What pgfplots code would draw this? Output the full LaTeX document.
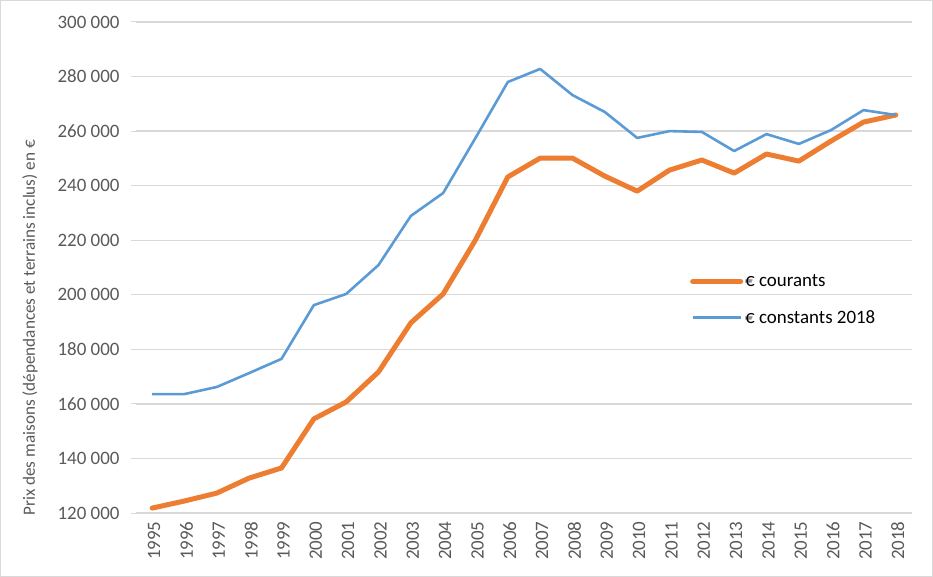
\documentclass[border=0pt]{standalone}
\usepackage{fontspec}
\setmainfont{Carlito}
\usepackage{pgfplots}
\pgfplotsset{compat=1.18}

\definecolor{courant}{HTML}{ED7D31}
\definecolor{constant}{HTML}{5B9BD5}
\definecolor{gridgray}{HTML}{D9D9D9}
\definecolor{txt}{HTML}{595959}

\begin{document}
\begin{tikzpicture}
\begin{axis}[
    scale only axis,
    width=776bp, height=491bp,
    xmin=1994.5, xmax=2018.5,
    ymin=120000, ymax=300000,
    xtick={1995,...,2018},
    xticklabels={1995,1996,1997,1998,1999,2000,2001,2002,2003,2004,2005,2006,
        2007,2008,2009,2010,2011,2012,2013,2014,2015,2016,2017,2018},
    ytick={120000,140000,...,300000},
    yticklabels={120 000,140 000,160 000,180 000,200 000,220 000,240 000,
        260 000,280 000,300 000},
    scaled ticks=false,
    font=\fontsize{19}{22}\selectfont,
    yticklabel style={text=txt, xshift=-8bp},
    xticklabel style={rotate=90, anchor=east, text=txt, yshift=-2bp},
    ylabel={Prix des maisons (dépendances et terrains inclus) en €},
    ylabel style={text=txt, font=\fontsize{17.2}{20}\selectfont,
        at={(axis description cs:-0.1366,0.377)}, anchor=center, rotate=0},
    ymajorgrids=true,
    grid style={gridgray, line width=1.3bp},
    axis x line*=bottom,
    axis y line*=left,
    x axis line style={gridgray, line width=1.3bp, -},
    y axis line style={draw=none},
    xtick style={draw=none},
    ytick style={gridgray, line width=1bp},
    tick align=outside,
    major tick length=5bp,
    legend style={at={(0.71,0.434)}, anchor=west, draw=none, fill=none,
        font=\fontsize{19}{22}\selectfont, row sep=18bp,
        legend cell align=left},
    legend image code/.code={\draw[#1] (0bp,0bp) -- (48bp,0bp);},
]

\addplot[color=courant, line width=5bp, line join=round, line cap=round]
    coordinates {
    (1995,121800)(1996,124400)(1997,127300)(1998,132800)(1999,136500)
    (2000,154500)(2001,160700)(2002,171700)(2003,189700)(2004,200300)
    (2005,220100)(2006,243200)(2007,250100)(2008,250100)(2009,243500)
    (2010,238000)(2011,245700)(2012,249400)(2013,244600)(2014,251600)
    (2015,249000)(2016,256400)(2017,263300)(2018,265900)
    };
\addlegendentry{€ courants}

\addplot[color=constant, line width=2.6bp, line join=round]
    coordinates {
    (1995,163600)(1996,163600)(1997,166200)(1998,171300)(1999,176500)
    (2000,196200)(2001,200300)(2002,210900)(2003,228900)(2004,237300)
    (2005,257500)(2006,278000)(2007,282800)(2008,273200)(2009,267000)
    (2010,257500)(2011,260000)(2012,259700)(2013,252700)(2014,258900)
    (2015,255300)(2016,260400)(2017,267700)(2018,265900)
    };
\addlegendentry{€ constants 2018}

\end{axis}
\draw[gridgray, line width=1bp]
    ([xshift=-135.5bp,yshift=-63.5bp]current axis.south west)
    rectangle ([xshift=20.5bp,yshift=21.5bp]current axis.north east);
\end{tikzpicture}
\end{document}
